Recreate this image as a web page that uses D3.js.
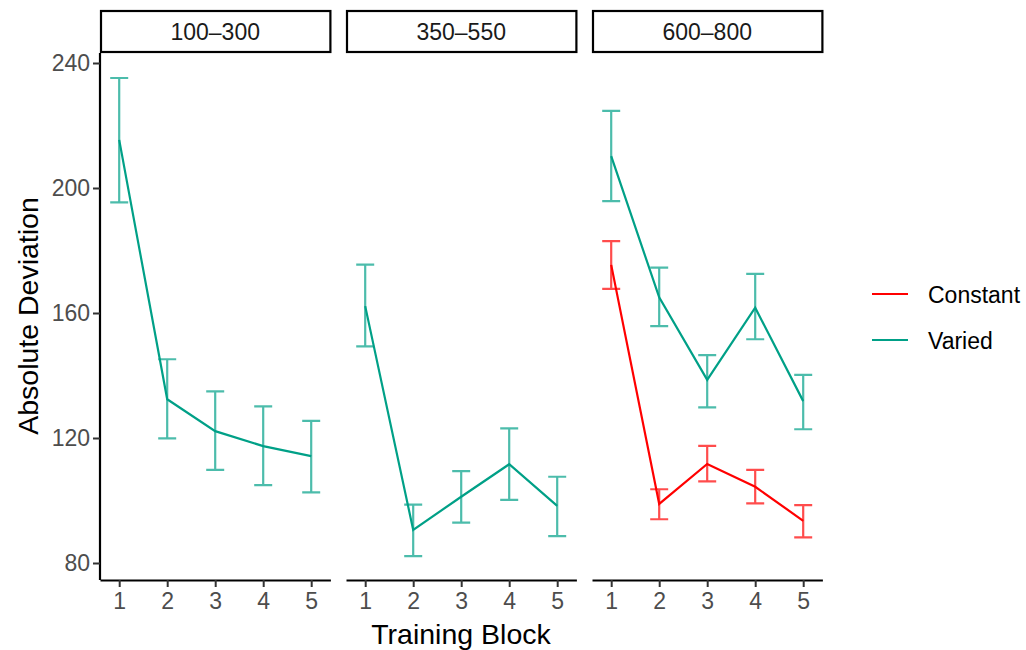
<!DOCTYPE html>
<html><head><meta charset="utf-8">
<script src="https://cdn.jsdelivr.net/npm/d3@7"></script>
<style>body{margin:0;background:#fff;} text{font-family:"Liberation Sans",Arial,sans-serif;}</style>
</head><body>
<svg id="c" width="1026" height="650"></svg>
<script>
const panels = ["100–300", "350–550", "600–800"];
const blocks = [1, 2, 3, 4, 5];
const yTicks = [80, 120, 160, 200, 240];
const groups = ["Constant", "Varied"];
const groupColors = ["#FF0000", "#00A087"];
// Varied: mean, lower, upper per panel
const variedMean = [[215.4, 132.4, 122.2, 117.4, 114.2],[162.2, 90.6, 101.2, 111.6, 98.3],[210.2, 165.0, 138.6, 161.7, 131.8]];
const variedLow  = [[195.4, 119.9, 109.8, 104.9, 102.6],[149.3, 82.2, 92.9, 100.2, 88.6],[195.8, 155.8, 129.8, 151.6, 122.8]];
const variedHigh = [[235.2, 145.2, 134.9, 130.1, 125.5],[175.5, 98.7, 109.4, 123.1, 107.6],[224.7, 174.5, 146.5, 172.5, 140.2]];
// Constant: only in panel 3
const constantMean = [null, null, [175.4, 98.9, 111.7, 104.4, 93.5]];
const constantLow  = [null, null, [167.7, 94.0, 106.1, 99.1, 88.2]];
const constantHigh = [null, null, [183.0, 103.6, 117.5, 109.8, 98.5]];

const svg = d3.select("#c");
const panelLeft = [100, 346, 592];
const panelW = 230.4;
const panelTop = 53, panelBottom = 580;
const y = d3.scaleLinear().domain([80, 240]).range([563, 63]);
const x = d3.scaleLinear().domain([0.6, 5.4]).range([0, panelW]);
const small = 23, big = 28.5;

panels.forEach((p, i) => {
  const g = svg.append("g").attr("transform", `translate(${panelLeft[i]},0)`);
  // strip
  g.append("rect").attr("x", 1).attr("y", 11).attr("width", panelW - 1).attr("height", 41)
    .attr("fill", "#fff").attr("stroke", "#000").attr("stroke-width", 2.2);
  g.append("text").attr("x", panelW / 2).attr("y", 31.5).attr("text-anchor", "middle")
    .attr("dominant-baseline", "central").attr("font-size", small).attr("fill", "#1A1A1A").text(p);

  // x axis
  const xa = g.append("g").attr("transform", `translate(0,${panelBottom})`)
    .call(d3.axisBottom(x).tickValues(blocks).tickFormat(d3.format("d")).tickSize(7).tickSizeOuter(0));
  xa.select(".domain").attr("stroke", "#000").attr("stroke-width", 2.2);
  xa.selectAll(".tick line").attr("stroke", "#333").attr("stroke-width", 2);
  xa.selectAll(".tick text").attr("font-size", small).attr("fill", "#4D4D4D").attr("dy", "0.82em").attr("y", 10);
  xa.attr("font-family", null);

  if (i === 0) {
    const ya = g.append("g").call(d3.axisLeft(y).tickValues(yTicks).tickSize(7).tickSizeOuter(0));
    ya.select(".domain").attr("d", `M0,${panelTop}V${panelBottom}`).attr("stroke", "#000").attr("stroke-width", 2.2);
    ya.selectAll(".tick line").attr("stroke", "#333").attr("stroke-width", 2);
    ya.selectAll(".tick text").attr("font-size", small).attr("fill", "#4D4D4D").attr("x", -10);
    ya.attr("font-family", null);
  }

  const series = [
    {mean: constantMean[i], low: constantLow[i], high: constantHigh[i], color: groupColors[0]},
    {mean: variedMean[i], low: variedLow[i], high: variedHigh[i], color: groupColors[1]}
  ];
  series.forEach(s => {
    if (!s.mean) return;
    const eb = g.append("g").attr("stroke", s.color).attr("stroke-opacity", 0.7).attr("stroke-width", 2.2).attr("fill", "none");
    blocks.forEach((b, k) => {
      const cx = x(b), half = 9;
      eb.append("path").attr("d",
        `M${cx - half},${y(s.high[k])}H${cx + half}M${cx},${y(s.high[k])}V${y(s.low[k])}M${cx - half},${y(s.low[k])}H${cx + half}`);
    });
  });
  series.forEach(s => {
    if (!s.mean) return;
    const line = d3.line().x((d, k) => x(blocks[k])).y(d => y(d));
    g.append("path").attr("d", line(s.mean)).attr("fill", "none").attr("stroke", s.color).attr("stroke-width", 2.2);
  });
});

// axis titles
svg.append("text").attr("x", 461).attr("y", 634).attr("text-anchor", "middle").attr("dominant-baseline", "central")
  .attr("font-size", big).attr("fill", "#000").text("Training Block");
svg.append("text").attr("transform", "translate(28,316) rotate(-90)").attr("text-anchor", "middle").attr("dominant-baseline", "central")
  .attr("font-size", big).attr("fill", "#000").text("Absolute Deviation");

// legend
const legY = [294, 340];
groups.forEach((gname, k) => {
  svg.append("line").attr("x1", 872).attr("x2", 908).attr("y1", legY[k]).attr("y2", legY[k])
    .attr("stroke", groupColors[k]).attr("stroke-width", 2.2);
  svg.append("text").attr("x", 928).attr("y", legY[k] + 1).attr("dominant-baseline", "central")
    .attr("font-size", small).attr("fill", "#000").text(gname);
});
</script>
</body></html>
